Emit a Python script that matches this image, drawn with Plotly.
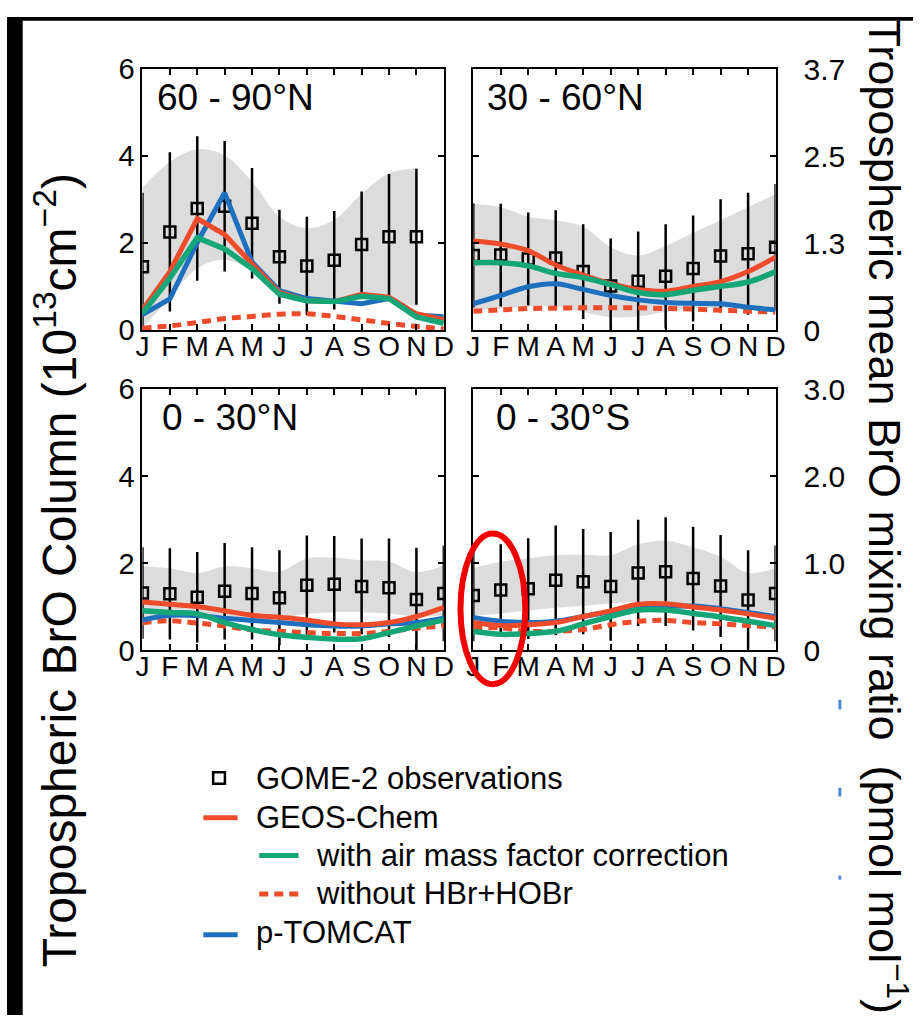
import plotly.graph_objects as go

W, H = 923, 1032
def px(x): return x / W
def py(y): return 1 - y / H

months = ["J", "F", "M", "A", "M", "J", "J", "A", "S", "O", "N", "D"]
xm = list(range(12))

# ---- 60-90N ----
nh_hi_obs = [1.46, 2.26, 2.80, 2.85, 2.46, 1.69, 1.48, 1.61, 1.97, 2.15, 2.15, None]
nh_hi_err = [1.70, 1.83, 1.66, 1.50, 1.27, 1.08, 1.13, 1.13, 1.22, 1.44, 1.56, None]
nh_hi_band_hi = [3.28, 3.87, 4.16, 4.02, 3.42, 2.61, 2.35, 2.54, 3.13, 3.61, 3.72]
nh_hi_band_lo = [0.05, 0.75, 1.42, 1.62, 1.35, 0.80, 0.62, 0.65, 0.78, 0.68, 0.55]
nh_hi_geos = [0.47, 1.35, 2.57, 2.20, 1.53, 0.87, 0.68, 0.66, 0.83, 0.76, 0.38, 0.24]
nh_hi_amf = [0.39, 1.20, 2.13, 1.87, 1.42, 0.83, 0.68, 0.66, 0.78, 0.73, 0.31, 0.16]
nh_hi_tomcat = [0.36, 0.72, 2.02, 3.16, 1.57, 0.91, 0.73, 0.66, 0.61, 0.73, 0.35, 0.31]
nh_hi_nohbr = [0.05, 0.10, 0.18, 0.27, 0.32, 0.37, 0.38, 0.32, 0.24, 0.16, 0.09, 0.03]

# ---- 30-60N ----
nh_mid_obs = [1.72, 1.73, 1.64, 1.66, 1.35, 1.02, 1.13, 1.24, 1.42, 1.71, 1.76, 1.91]
nh_mid_err = [1.20, 1.18, 1.07, 1.10, 1.09, 1.09, 1.14, 1.20, 1.22, 1.30, 1.40, 1.45]
nh_mid_band_hi = [2.90, 2.83, 2.61, 2.53, 2.38, 1.91, 1.72, 1.94, 2.24, 2.53, 2.83, 3.13]
nh_mid_band_lo = [0.46, 0.50, 0.55, 0.55, 0.42, 0.30, 0.32, 0.42, 0.50, 0.52, 0.52, 0.52]
nh_mid_geos = [2.05, 1.98, 1.83, 1.50, 1.27, 1.07, 0.94, 0.90, 1.01, 1.12, 1.35, 1.68]
nh_mid_amf = [1.55, 1.55, 1.48, 1.31, 1.21, 1.05, 0.87, 0.82, 0.92, 1.01, 1.11, 1.35]
nh_mid_tomcat = [0.61, 0.80, 1.00, 1.07, 0.94, 0.80, 0.70, 0.64, 0.62, 0.61, 0.53, 0.47]
nh_mid_nohbr = [0.44, 0.47, 0.50, 0.51, 0.52, 0.52, 0.52, 0.50, 0.49, 0.46, 0.44, 0.42]

# ---- 0-30N ----
nh_trop_obs = [1.32, 1.30, 1.22, 1.36, 1.31, 1.21, 1.50, 1.52, 1.47, 1.44, 1.17, 1.31]
nh_trop_err = [1.05, 1.05, 1.04, 1.11, 1.06, 1.09, 1.14, 1.11, 1.10, 1.13, 1.19, 1.10]
nh_trop_band_hi = [1.93, 1.89, 1.78, 1.93, 1.89, 1.81, 2.11, 2.13, 2.07, 2.04, 1.80, 1.96]
nh_trop_band_lo = [0.72, 0.74, 0.76, 0.74, 0.72, 0.74, 0.84, 0.88, 0.88, 0.85, 0.78, 0.80]
nh_trop_geos = [1.11, 1.06, 1.01, 0.91, 0.81, 0.76, 0.70, 0.61, 0.59, 0.64, 0.78, 0.99]
nh_trop_amf = [0.91, 0.87, 0.84, 0.64, 0.48, 0.36, 0.30, 0.26, 0.27, 0.41, 0.56, 0.70]
nh_trop_tomcat = [0.70, 0.81, 0.80, 0.74, 0.69, 0.64, 0.59, 0.56, 0.56, 0.61, 0.64, 0.74]
nh_trop_nohbr = [0.64, 0.68, 0.63, 0.56, 0.47, 0.44, 0.41, 0.39, 0.39, 0.44, 0.51, 0.57]

# ---- 0-30S ----
sh_trop_obs = [1.26, 1.39, 1.42, 1.61, 1.58, 1.47, 1.78, 1.81, 1.65, 1.48, 1.16, 1.31]
sh_trop_err = [1.05, 1.05, 1.16, 1.26, 1.21, 1.25, 1.22, 1.25, 1.19, 1.17, 1.14, 1.10]
sh_trop_band_hi = [1.89, 2.04, 2.11, 2.19, 2.20, 2.19, 2.44, 2.52, 2.37, 2.15, 1.78, 1.89]
sh_trop_band_lo = [0.80, 0.85, 0.92, 0.98, 1.02, 1.08, 1.12, 1.12, 1.05, 0.98, 0.90, 0.88]
sh_trop_geos = [0.64, 0.57, 0.59, 0.64, 0.78, 0.91, 1.06, 1.07, 1.00, 0.93, 0.84, 0.74]
sh_trop_amf = [0.44, 0.37, 0.39, 0.44, 0.61, 0.78, 0.93, 0.93, 0.85, 0.77, 0.67, 0.57]
sh_trop_tomcat = [0.76, 0.67, 0.64, 0.67, 0.78, 0.89, 1.00, 1.01, 1.02, 0.96, 0.87, 0.78]
sh_trop_nohbr = [0.52, 0.52, 0.44, 0.44, 0.48, 0.59, 0.67, 0.69, 0.64, 0.61, 0.57, 0.54]

panel_titles = ["60 - 90°N", "30 - 60°N", "0 - 30°N", "0 - 30°S"]
right_top_ticks = ["0", "1.3", "2.5", "3.7"]
right_bot_ticks = ["0", "1.0", "2.0", "3.0"]
left_ticks = ["0", "2", "4", "6"]

RED = "#EE4B2B"
GREEN = "#14A677"
BLUE = "#1F6FBF"
GRAY = "#DCDCDC"
FONT = "Liberation Sans, Arial, sans-serif"
DASH = "9px,6px"

panels = [
    dict(ax="", obs=nh_hi_obs, err=nh_hi_err, hi=nh_hi_band_hi, lo=nh_hi_band_lo,
         geos=nh_hi_geos, amf=nh_hi_amf, tom=nh_hi_tomcat, nob=nh_hi_nohbr, shape="linear"),
    dict(ax="2", obs=nh_mid_obs, err=nh_mid_err, hi=nh_mid_band_hi, lo=nh_mid_band_lo,
         geos=nh_mid_geos, amf=nh_mid_amf, tom=nh_mid_tomcat, nob=nh_mid_nohbr, shape="spline"),
    dict(ax="3", obs=nh_trop_obs, err=nh_trop_err, hi=nh_trop_band_hi, lo=nh_trop_band_lo,
         geos=nh_trop_geos, amf=nh_trop_amf, tom=nh_trop_tomcat, nob=nh_trop_nohbr, shape="spline"),
    dict(ax="4", obs=sh_trop_obs, err=sh_trop_err, hi=sh_trop_band_hi, lo=sh_trop_band_lo,
         geos=sh_trop_geos, amf=sh_trop_amf, tom=sh_trop_tomcat, nob=sh_trop_nohbr, shape="spline"),
]

fig = go.Figure()
for p in panels:
    xa, ya = "x" + p["ax"], "y" + p["ax"]
    nb = len(p["hi"])
    common = dict(xaxis=xa, yaxis=ya, showlegend=False, hoverinfo="skip")
    fig.add_trace(go.Scatter(x=xm[:nb], y=p["lo"], mode="lines",
                             line=dict(width=0, shape="spline"), **common))
    fig.add_trace(go.Scatter(x=xm[:nb], y=p["hi"], mode="lines", fill="tonexty",
                             fillcolor=GRAY, line=dict(width=0, shape="spline"), **common))
    fig.add_trace(go.Scatter(x=xm, y=p["obs"], mode="markers",
                             marker=dict(symbol="square-open", size=11, color="black",
                                         line=dict(width=2.5, color="black")),
                             error_y=dict(type="data", array=p["err"], visible=True,
                                          thickness=2.5, width=0, color="black"),
                             **common))
    fig.add_trace(go.Scatter(x=xm, y=p["nob"], mode="lines",
                             line=dict(color=RED, width=5, dash=DASH, shape="spline"), **common))
    fig.add_trace(go.Scatter(x=xm, y=p["tom"], mode="lines",
                             line=dict(color=BLUE, width=5, shape=p["shape"]), **common))
    fig.add_trace(go.Scatter(x=xm, y=p["geos"], mode="lines",
                             line=dict(color=RED, width=5, shape=p["shape"]), **common))
    fig.add_trace(go.Scatter(x=xm, y=p["amf"], mode="lines",
                             line=dict(color=GREEN, width=5.5, shape=p["shape"]), **common))

# invisible traces for the right-hand overlay axes
fig.add_trace(go.Scatter(x=[0], y=[0], xaxis="x2", yaxis="y5", mode="markers",
                         marker=dict(opacity=0), showlegend=False, hoverinfo="skip"))
fig.add_trace(go.Scatter(x=[0], y=[0], xaxis="x4", yaxis="y6", mode="markers",
                         marker=dict(opacity=0), showlegend=False, hoverinfo="skip"))

xdom_l = [px(138), px(445)]
xdom_r = [px(475), px(783)]
ydom_t = [py(324), py(54)]
ydom_b = [py(655), py(385)]

def xax(dom, anchor):
    return dict(domain=dom, anchor=anchor, range=[0, 11], tickmode="array",
                tickvals=xm, ticktext=months, ticks="inside", ticklen=6, tickwidth=1.5,
                tickcolor="black", showline=True, linecolor="black", linewidth=2,
                mirror="ticks", showgrid=False, zeroline=False, ticklabelstandoff=-10,
                tickfont=dict(family=FONT, size=28, color="black"), fixedrange=True)

def yax(dom, anchor, labels=True):
    return dict(domain=dom, anchor=anchor, range=[0, 6], tickmode="array",
                tickvals=[0, 2, 4, 6], ticktext=left_ticks, showticklabels=labels,
                ticks="inside", ticklen=6, tickwidth=1.5, tickcolor="black",
                showline=True, linecolor="black", linewidth=2, mirror="ticks",
                showgrid=False, zeroline=False,
                tickfont=dict(family=FONT, size=29, color="black"), fixedrange=True)

def yright(over, anchor, labels):
    return dict(overlaying=over, anchor=anchor, side="right", range=[0, 6],
                tickmode="array", tickvals=[0, 2, 4, 6], ticktext=labels,
                ticks="", showline=False, showgrid=False, zeroline=False,
                ticklabelstandoff=27,
                tickfont=dict(family=FONT, size=30, color="black"), fixedrange=True)

fig.update_layout(
    xaxis=xax(xdom_l, "y"), yaxis=yax(ydom_t, "x"),
    xaxis2=xax(xdom_r, "y2"), yaxis2=yax(ydom_t, "x2", labels=False),
    xaxis3=xax(xdom_l, "y3"), yaxis3=yax(ydom_b, "x3"),
    xaxis4=xax(xdom_r, "y4"), yaxis4=yax(ydom_b, "x4", labels=False),
    yaxis5=yright("y2", "x2", right_top_ticks),
    yaxis6=yright("y4", "x4", right_bot_ticks),
)

annotations = []
# panel titles
title_pos = [(151, 83), (487, 83), (156, 414), (496, 414)]
for t, (tx, ty) in zip(panel_titles, title_pos):
    annotations.append(dict(text=t, x=px(tx), y=py(ty), xref="paper", yref="paper",
                            xanchor="left", yanchor="middle", showarrow=False,
                            font=dict(family=FONT, size=37, color="black")))
# axis titles
annotations.append(dict(text="Tropospheric BrO Column (10<sup>13</sup>cm<sup>−2</sup>)",
                        x=px(50), y=py(572), xref="paper", yref="paper", textangle=-90,
                        xanchor="center", yanchor="middle", showarrow=False,
                        font=dict(family=FONT, size=48, color="black")))
annotations.append(dict(text="Tropospheric mean BrO mixing ratio  (pmol mol<sup>−1</sup>)",
                        x=px(897), y=py(517), xref="paper", yref="paper", textangle=90,
                        xanchor="center", yanchor="middle", showarrow=False,
                        font=dict(family=FONT, size=45, color="black")))
# legend texts
legend_items = [
    ("GOME-2 observations", 252, 787),
    ("GEOS-Chem", 252, 828),
    ("with air mass factor correction", 313, 867),
    ("without HBr+HOBr", 313, 906),
    ("p-TOMCAT", 252, 947),
]
for t, tx, ty in legend_items:
    annotations.append(dict(text=t, x=px(tx), y=py(ty), xref="paper", yref="paper",
                            xanchor="left", yanchor="middle", showarrow=False,
                            font=dict(family=FONT, size=31, color="black")))

shapes = []
# black borders of the picture
shapes.append(dict(type="rect", xref="paper", yref="paper", x0=0, x1=px(16), y0=0, y1=1,
                   fillcolor="black", line=dict(width=0), layer="above"))
shapes.append(dict(type="rect", xref="paper", yref="paper", x0=0, x1=1, y0=py(4), y1=1,
                   fillcolor="black", line=dict(width=0), layer="above"))
# legend symbols
shapes.append(dict(type="rect", xref="paper", yref="paper", x0=px(210), x1=px(222),
                   y0=py(793), y1=py(781), line=dict(color="black", width=2.5)))
shapes.append(dict(type="line", xref="paper", yref="paper", x0=px(200), x1=px(235),
                   y0=py(828), y1=py(828), line=dict(color=RED, width=5)))
shapes.append(dict(type="line", xref="paper", yref="paper", x0=px(257), x1=px(297),
                   y0=py(867), y1=py(867), line=dict(color=GREEN, width=5)))
shapes.append(dict(type="line", xref="paper", yref="paper", x0=px(257), x1=px(297),
                   y0=py(907), y1=py(907), line=dict(color=RED, width=5, dash=DASH)))
shapes.append(dict(type="line", xref="paper", yref="paper", x0=px(200), x1=px(235),
                   y0=py(949), y1=py(949), line=dict(color=BLUE, width=5)))
# red ellipse annotation
shapes.append(dict(type="circle", xref="paper", yref="paper", x0=px(462), x1=px(528),
                   y0=py(690), y1=py(534), line=dict(color="#F00000", width=6), layer="above"))
# small blue marks at the right
for y0, y1 in [(706, 716), (797, 806), (888, 892)]:
    shapes.append(dict(type="rect", xref="paper", yref="paper", x0=px(847), x1=px(850),
                       y0=py(y1), y1=py(y0), fillcolor="#4A86D8", line=dict(width=0)))

fig.update_layout(
    width=W, height=H, autosize=False,
    margin=dict(l=0, r=0, t=0, b=0),
    paper_bgcolor="white", plot_bgcolor="white",
    showlegend=False,
    annotations=annotations, shapes=shapes,
    font=dict(family=FONT, color="black"),
)

fig.write_html("out.html")
